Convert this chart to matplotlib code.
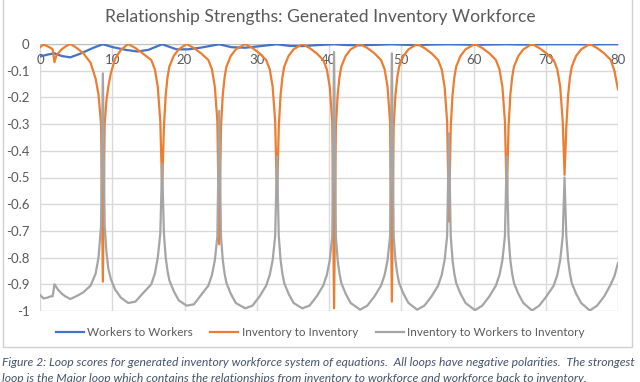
import matplotlib
matplotlib.use('Agg')
import matplotlib.pyplot as plt
from matplotlib.ticker import MultipleLocator, FuncFormatter
from matplotlib.patches import Rectangle

# time samples shared by the two inventory loops
t = [0, 0.5, 1.0, 1.5, 1.75, 2.0, 2.25, 2.5, 3.0, 3.5,
     4.2, 5.0, 6.0, 7.0, 7.7, 8.1, 8.45, 8.7, 8.95, 9.2, 9.45, 9.8, 10.4, 11.2,
     12.2, 13.2, 14.2, 15.4, 15.9, 16.3, 16.65, 16.9, 17.15, 17.4, 17.65, 17.9, 18.5, 19.2,
     20.3, 21.3, 22.3, 23.3, 23.8, 24.2, 24.55, 24.8, 25.05, 25.3, 25.55, 25.8, 26.4, 27.1,
     28.4, 29.4, 30.4, 31.3, 31.8, 32.2, 32.55, 32.8, 33.05, 33.3, 33.55, 33.8, 34.4, 35.1,
     36.3, 37.3, 38.3, 39.2, 39.7, 40.1, 40.45, 40.7, 40.95, 41.2, 41.45, 41.7, 42.3, 43.0,
     44.3, 45.3, 46.3, 47.2, 47.7, 48.1, 48.45, 48.7, 48.95, 49.2, 49.45, 49.7, 50.3, 51.0,
     52.2, 53.2, 54.2, 55.1, 55.6, 56.0, 56.35, 56.6, 56.85, 57.1, 57.35, 57.6, 58.2, 58.9,
     60.2, 61.2, 62.2, 63.1, 63.6, 64.0, 64.35, 64.6, 64.85, 65.1, 65.35, 65.6, 66.2, 66.9,
     68.1, 69.1, 70.1, 71.1, 71.6, 72.0, 72.35, 72.6, 72.85, 73.1, 73.35, 73.6, 74.2, 74.9,
     76.1, 77.1, 78.1, 79.0, 79.5, 80.0]

inventory = [-0.012, -0.002, -0.008, -0.015, -0.02, -0.068, -0.045, -0.035, -0.02, -0.01,
             0, -0.013, -0.035, -0.07, -0.13, -0.19, -0.3, -0.89, -0.3, -0.21, -0.16, -0.11, -0.055, -0.022,
             0, -0.015, -0.035, -0.06, -0.095, -0.16, -0.29, -0.54, -0.31, -0.19, -0.125, -0.085, -0.045, -0.02,
             0, -0.015, -0.035, -0.06, -0.095, -0.16, -0.29, -0.75, -0.31, -0.19, -0.125, -0.085, -0.045, -0.02,
             0, -0.015, -0.035, -0.06, -0.095, -0.16, -0.29, -0.58, -0.31, -0.19, -0.125, -0.085, -0.045, -0.02,
             0, -0.015, -0.035, -0.06, -0.095, -0.16, -0.29, -0.99, -0.31, -0.19, -0.125, -0.085, -0.045, -0.02,
             0, -0.015, -0.035, -0.06, -0.095, -0.16, -0.29, -0.965, -0.31, -0.19, -0.125, -0.085, -0.045, -0.02,
             0, -0.015, -0.035, -0.06, -0.095, -0.16, -0.29, -0.665, -0.31, -0.19, -0.125, -0.085, -0.045, -0.02,
             0, -0.015, -0.035, -0.06, -0.095, -0.16, -0.29, -0.58, -0.31, -0.19, -0.125, -0.085, -0.045, -0.02,
             0, -0.015, -0.035, -0.06, -0.095, -0.16, -0.29, -0.49, -0.31, -0.19, -0.125, -0.085, -0.045, -0.02,
             0, -0.015, -0.035, -0.06, -0.1, -0.17]

inv_workers_inv = [-0.94, -0.953, -0.95, -0.945, -0.945, -0.9, -0.91, -0.92, -0.935, -0.945,
                   -0.955, -0.945, -0.93, -0.905, -0.86, -0.8, -0.68, -0.11, -0.68, -0.78, -0.84, -0.88, -0.92, -0.95,
                   -0.97, -0.965, -0.935, -0.9, -0.86, -0.8, -0.71, -0.45, -0.71, -0.8, -0.85, -0.885, -0.925, -0.96,
                   -0.98, -0.975, -0.94, -0.905, -0.865, -0.81, -0.72, -0.25, -0.72, -0.81, -0.86, -0.895, -0.935, -0.97,
                   -0.99, -0.98, -0.945, -0.905, -0.865, -0.81, -0.72, -0.42, -0.72, -0.81, -0.86, -0.895, -0.935, -0.97,
                   -0.99, -0.98, -0.945, -0.905, -0.865, -0.81, -0.72, -0.03, -0.72, -0.81, -0.86, -0.895, -0.935, -0.97,
                   -0.995, -0.98, -0.945, -0.905, -0.865, -0.81, -0.72, -0.035, -0.72, -0.81, -0.86, -0.895, -0.935, -0.97,
                   -0.995, -0.98, -0.945, -0.905, -0.865, -0.81, -0.72, -0.335, -0.72, -0.81, -0.86, -0.895, -0.935, -0.97,
                   -0.997, -0.98, -0.945, -0.905, -0.865, -0.81, -0.72, -0.42, -0.72, -0.81, -0.86, -0.895, -0.935, -0.97,
                   -0.998, -0.98, -0.945, -0.905, -0.865, -0.81, -0.72, -0.5, -0.72, -0.81, -0.86, -0.895, -0.935, -0.97,
                   -0.998, -0.98, -0.945, -0.9, -0.87, -0.82]

t_workers = [0, 1.0, 2.0, 3.0, 4.2, 5.5, 7.4, 8.7, 10.1, 11.9, 13.5, 15.0, 16.9, 18.9, 20.5,
             22.2, 24.8, 26.5, 28.4, 30.5, 32.8, 34.5, 36.3, 38.5, 40.7, 42.5, 44.3, 46.5, 48.7,
             50.5, 52.2, 54.4, 56.6, 58.4, 60.2, 62.4, 64.6, 66.4, 68.1, 70.4, 72.6, 74.4, 76.1,
             78.1, 80.0]
workers = [-0.047, -0.04, -0.035, -0.045, -0.05, -0.037, -0.014, -0.001, -0.012, -0.022, -0.028,
           -0.022, -0.001, -0.02, -0.02, -0.014, -0.001, -0.012, -0.014, -0.008, -0.001, -0.007,
           -0.008, -0.004, -0.001, -0.004, -0.005, -0.003, -0.001, -0.003, -0.004, -0.002, -0.001,
           -0.002, -0.003, -0.002, -0.001, -0.002, -0.002, -0.001, -0.001, -0.001, -0.002, -0.001,
           -0.001]

title = 'Relationship Strengths: Generated Inventory Workforce'
labels = ['Workers to Workers', 'Inventory to Inventory', 'Inventory to Workers to Inventory']
caption = ['Figure 2: Loop scores for generated inventory workforce system of equations.  '
           'All loops have negative polarities.  The strongest',
           'loop is the Major loop which contains the relationships from inventory to workforce '
           'and workforce back to inventory.']

plt.rcParams['font.family'] = ['Lato', 'DejaVu Sans']
text_color = '#595959'
grid_color = '#D9D9D9'

fig = plt.figure(figsize=(6.4, 3.82), dpi=100)
W, H = 640, 382

# chart border
fig.patches.append(Rectangle((3 / W, 1 - 347 / H), 629 / W, 360 / H, transform=fig.transFigure,
                             fill=False, edgecolor='#D0D0D0', linewidth=1.0))

ax = fig.add_axes([40 / W, 1 - 311 / H, 578 / W, 267 / H])
ax.plot(t_workers, workers, color='#4472C4', lw=1.6, label=labels[0], zorder=3)
ax.plot(t, inventory, color='#ED7D31', lw=1.6, label=labels[1], zorder=4)
ax.plot(t, inv_workers_inv, color='#A5A5A5', lw=1.6, label=labels[2], zorder=5)

ax.set_xlim(0, 80)
ax.set_ylim(-1, 0)
ax.xaxis.set_major_locator(MultipleLocator(10))
ax.yaxis.set_major_locator(MultipleLocator(0.1))
ax.yaxis.set_major_formatter(FuncFormatter(lambda v, p: f"{round(v, 1) + 0.0:g}"))
ax.grid(True, color=grid_color, lw=1.0)
ax.set_axisbelow(True)
for s in ['left', 'right', 'bottom']:
    ax.spines[s].set_visible(False)
ax.spines['top'].set_color('#BFBFBF')
ax.tick_params(axis='x', top=False, bottom=False, labeltop=True, labelbottom=False,
               pad=-19, labelsize=9.5, labelcolor=text_color)
ax.tick_params(axis='y', left=False, pad=4, labelsize=9.5, labelcolor=text_color)

fig.text(0.5, 1 - 17 / H, title, ha='center', va='center', fontsize=12.6, color=text_color)

fig.legend(loc='center', bbox_to_anchor=(0.5, 1 - 333 / H), ncol=3, frameon=False,
           fontsize=8.4, handlelength=2.4, columnspacing=1.5, handletextpad=0.3,
           labelcolor=text_color)

fig.text(2 / W, 1 - 362 / H, caption[0], ha='left', va='center', fontsize=8.7,
         style='italic', color='#44546A')
fig.text(2 / W, 1 - 378 / H, caption[1], ha='left', va='center', fontsize=8.7,
         style='italic', color='#44546A')

fig.savefig('out.png', dpi=100)
